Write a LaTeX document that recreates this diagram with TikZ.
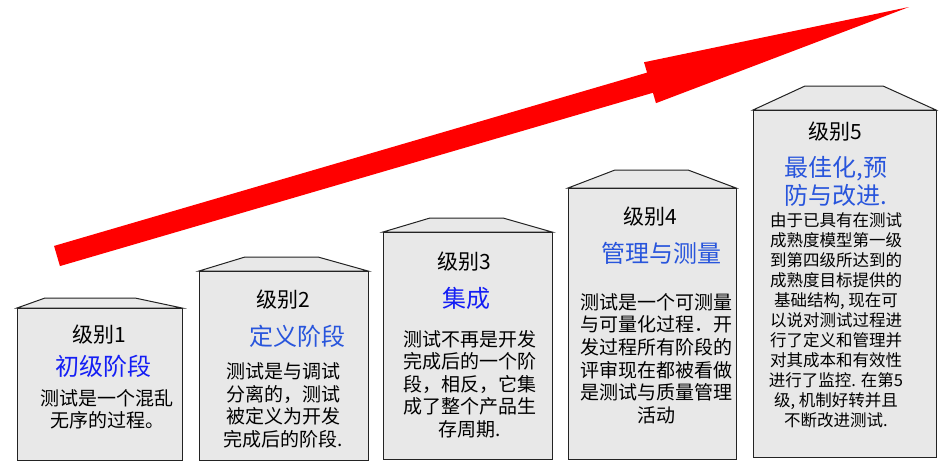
\documentclass[tikz,border=0pt]{standalone}
\usepackage{fontspec}
\setmainfont{Noto Sans CJK SC}
\usetikzlibrary{calc}
\definecolor{cmmRed}{RGB}{255,0,0}
\definecolor{cmmGray}{RGB}{232,232,232}
\definecolor{cmmEdge}{RGB}{35,35,35}
\definecolor{cmmBlue}{RGB}{20,30,245}
\definecolor{cmmSoftBlue}{RGB}{40,85,220}

\begin{document}
\begin{tikzpicture}[x=1pt, y=-1pt,
  house/.style={fill=cmmGray, draw=cmmEdge, line width=1pt},
  level/.style={font=\fontsize{21}{24}\selectfont, inner sep=0pt},
  stage/.style={font=\fontsize{24}{28}\selectfont, text=cmmBlue, align=center, inner sep=0pt},
  desc/.style={font=\fontsize{19}{22.5}\selectfont, align=center, inner sep=0pt}
]
\useasboundingbox (0,0) rectangle (942,474);

% rising arrow
\coordinate (tail) at (57,256);
\coordinate (tip) at (909,7);
\coordinate (neck) at ($(tail)!0.696!(tip)$);
\fill[cmmRed] ($(tail)!10.5pt!90:(tip)$) -- ($(neck)!10.5pt!90:(tip)$)
  -- ($(neck)!21.3pt!90:(tip)$) -- (tip) -- ($(neck)!21.3pt!-90:(tip)$)
  -- ($(neck)!10.5pt!-90:(tip)$) -- ($(tail)!10.5pt!-90:(tip)$) -- cycle;

% the five steps
\filldraw[house] (17,308) -- (45,298) -- (135,298) -- (182,308) -- cycle;
\filldraw[house] (17,308) rectangle (182,460);
\filldraw[house] (199,271) -- (245,257) -- (318,257) -- (368,271) -- cycle;
\filldraw[house] (199,271) rectangle (368,460);
\filldraw[house] (383,232) -- (430,218) -- (503,218) -- (552,232) -- cycle;
\filldraw[house] (383,232) rectangle (552,459);
\filldraw[house] (568,188) -- (615,170) -- (688,170) -- (736,188) -- cycle;
\filldraw[house] (568,188) rectangle (736,459);
\filldraw[house] (753,110) -- (805,86) -- (883,86) -- (936,110) -- cycle;
\filldraw[house] (753,110) rectangle (936,457);

\node[level] (lvlA) at (99,335) {级别1};
\node[stage] (stageA) at (103,366) {初级阶段};
\node[desc] (descA) at (107,409.5) {测试是一个混乱\\无序的过程。};

\node[level] (lvlB) at (283,300) {级别2};
\node[stage, text=cmmSoftBlue] (stageB) at (297,336) {定义阶段};
\node[desc] (descB) at (283,405.5) {测试是与调试\\分离的，测试\\被定义为开发\\完成后的阶段.};

\node[level] (lvlC) at (464,262) {级别3};
\node[stage] (stageC) at (466,298) {集成};
\node[desc] (descC) at (470,384) {测试不再是开发\\完成后的一个阶\\段，相反，它集\\成了整个产品生\\存周期.};

\node[level] (lvlD) at (650,217) {级别4};
\node[stage, text=cmmSoftBlue] (stageD) at (661,253) {管理与测量};
\node[desc, font=\fontsize{19}{22.6}\selectfont] (descD) at (656,358.5)
  {测试是一个可测量\\与可量化过程．开\\发过程所有阶段的\\评审现在都被看做\\是测试与质量管理\\活动};

\node[level] (lvlE) at (835,132) {级别5};
\node[stage, text=cmmSoftBlue] (stageE) at (836,181) {最佳化,预\\防与改进.};
\node[desc, font=\fontsize{16.5}{20}\selectfont] (descE) at (836,320)
  {由于已具有在测试\\成熟度模型第一级\\到第四级所达到的\\成熟度目标提供的\\基础结构, 现在可\\以说对测试过程进\\行了定义和管理并\\对其成本和有效性\\进行了监控. 在第5\\级, 机制好转并且\\不断改进测试.};
\end{tikzpicture}
\end{document}
